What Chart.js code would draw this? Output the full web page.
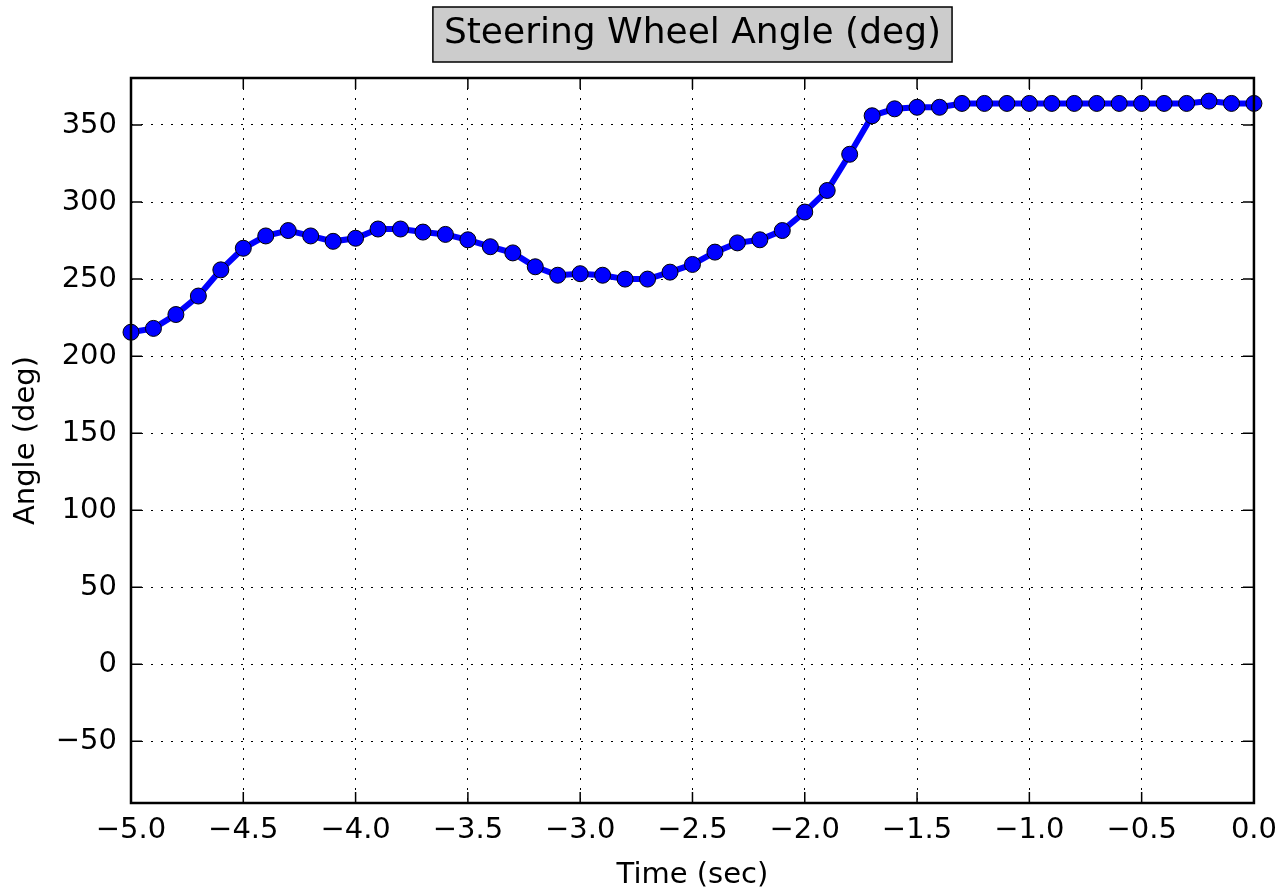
<!DOCTYPE html>
<html>
<head>
<meta charset="utf-8">
<title>Steering Wheel Angle (deg)</title>
<script src="https://cdn.jsdelivr.net/npm/chart.js@4/dist/chart.umd.min.js"></script>
<style>
    html, body {
        margin: 0;
        padding: 0;
        background: #ffffff;
    }
    #angleChart {
        display: block;
    }
</style>
</head>
<body>
<canvas id="angleChart" width="1287" height="893"></canvas>
<script>
// Time stamps (sec) and steering angle readings (deg)
const times = [
    -5.0, -4.9, -4.8, -4.7, -4.6, -4.5, -4.4, -4.3, -4.2, -4.1,
    -4.0, -3.9, -3.8, -3.7, -3.6, -3.5, -3.4, -3.3, -3.2, -3.1,
    -3.0, -2.9, -2.8, -2.7, -2.6, -2.5, -2.4, -2.3, -2.2, -2.1,
    -2.0, -1.9, -1.8, -1.7, -1.6, -1.5, -1.4, -1.3, -1.2, -1.1,
    -1.0, -0.9, -0.8, -0.7, -0.6, -0.5, -0.4, -0.3, -0.2, -0.1,
    0.0
];
const angles = [
    215.5, 218, 227, 239, 256, 270, 278, 281.5, 278, 274.5,
    276.5, 282.5, 282.5, 280.5, 279, 275.5, 271, 267, 258, 252.5,
    253.5, 252.5, 250, 250, 254.5, 259.5, 267.5, 273.5, 275.5, 281.5,
    293.5, 307.5, 331, 356, 360.5, 361.5, 361.5, 364, 364, 364,
    364, 364, 364, 364, 364, 364, 364, 364, 365.5, 364,
    364
];

// Tick positions
const xTicks = [-5.0, -4.5, -4.0, -3.5, -3.0, -2.5, -2.0, -1.5, -1.0, -0.5, 0.0];
const yTicks = [-50, 0, 50, 100, 150, 200, 250, 300, 350];

const chartTitle = 'Steering Wheel Angle (deg)';
const xLabel = 'Time (sec)';
const yLabel = 'Angle (deg)';

const FONT = '"DejaVu Sans", "Liberation Sans", sans-serif';

// matplotlib style minus sign
const fmt = (v, digits) => {
    const s = Math.abs(v).toFixed(digits);
    return v < 0 ? '\u2212' + s : s;
};

/**
 * Boxed title, grey background like the classic matplotlib look
 */
const boxedTitle = {
    id: 'boxedTitle',
    afterDraw(chart) {
        const ctx = chart.ctx;
        const area = chart.chartArea;
        const cx = (area.left + area.right) / 2;
        ctx.save();
        ctx.font = '36px ' + FONT;
        const w = ctx.measureText(chartTitle).width;
        const padX = 11;
        const boxTop = 7;
        const boxH = 55;
        ctx.fillStyle = '#cccccc';
        ctx.fillRect(cx - w / 2 - padX, boxTop, w + padX * 2, boxH);
        ctx.lineWidth = 1.5;
        ctx.strokeStyle = '#000000';
        ctx.strokeRect(cx - w / 2 - padX, boxTop, w + padX * 2, boxH);
        ctx.fillStyle = '#000000';
        ctx.textAlign = 'center';
        ctx.textBaseline = 'middle';
        ctx.fillText(chartTitle, cx, boxTop + boxH / 2 - 1);
        ctx.restore();
    }
};

/**
 * Frame on all four sides with inward ticks
 */
const frameTicks = {
    id: 'frameTicks',
    afterDraw(chart) {
        const ctx = chart.ctx;
        const {left, right, top, bottom} = chart.chartArea;
        const xs = chart.scales.x;
        const ys = chart.scales.y;
        const len = 11;
        ctx.save();
        ctx.strokeStyle = '#000000';
        ctx.lineWidth = 1.5;
        ctx.beginPath();
        xTicks.forEach(v => {
            const px = xs.getPixelForValue(v);
            ctx.moveTo(px, bottom);
            ctx.lineTo(px, bottom - len);
            ctx.moveTo(px, top);
            ctx.lineTo(px, top + len);
        });
        yTicks.forEach(v => {
            const py = ys.getPixelForValue(v);
            ctx.moveTo(left, py);
            ctx.lineTo(left + len, py);
            ctx.moveTo(right, py);
            ctx.lineTo(right - len, py);
        });
        ctx.stroke();
        ctx.lineWidth = 2.5;
        ctx.strokeRect(left, top, right - left, bottom - top);
        ctx.restore();
    }
};

const ctx = document.getElementById('angleChart').getContext('2d');

new Chart(ctx, {
    type: 'line',
    data: {
        datasets: [{
            label: yLabel,
            data: times.map((t, i) => ({x: t, y: angles[i]})),
            borderColor: '#0000ff',
            backgroundColor: '#0000ff',
            borderWidth: 6,
            pointRadius: 8,
            pointBackgroundColor: '#0000ff',
            pointBorderColor: '#000000',
            pointBorderWidth: 1,
            tension: 0,
            fill: false,
            clip: false
        }]
    },
    options: {
        responsive: false,
        animation: false,
        devicePixelRatio: 1,
        layout: {
            padding: {top: 78, right: 31, bottom: 0, left: 0}
        },
        plugins: {
            legend: {display: false},
            tooltip: {enabled: false},
            title: {display: false}
        },
        scales: {
            x: {
                type: 'linear',
                min: -5,
                max: 0,
                afterBuildTicks: (scale) => {
                    scale.ticks = xTicks.map(v => ({value: v}));
                },
                afterFit: (scale) => {
                    scale.height = 90;
                },
                ticks: {
                    color: '#000000',
                    font: {family: FONT, size: 29},
                    padding: 10,
                    maxRotation: 0,
                    autoSkip: false,
                    callback: (v) => fmt(v, 1)
                },
                grid: {
                    color: '#000000',
                    lineWidth: 1,
                    drawTicks: false
                },
                border: {
                    display: false,
                    dash: [2, 8]
                },
                title: {
                    display: true,
                    text: xLabel,
                    color: '#000000',
                    font: {family: FONT, size: 29, lineHeight: 1.2},
                    padding: {top: 0, bottom: 0}
                }
            },
            y: {
                type: 'linear',
                min: -90,
                max: 380.5,
                afterBuildTicks: (scale) => {
                    scale.ticks = yTicks.map(v => ({value: v}));
                },
                afterFit: (scale) => {
                    scale.width = 131;
                },
                ticks: {
                    color: '#000000',
                    font: {family: FONT, size: 29},
                    padding: 14,
                    autoSkip: false,
                    callback: (v) => fmt(v, 0)
                },
                grid: {
                    color: '#000000',
                    lineWidth: 1,
                    drawTicks: false
                },
                border: {
                    display: false,
                    dash: [2, 8]
                },
                title: {
                    display: true,
                    text: yLabel,
                    color: '#000000',
                    font: {family: FONT, size: 29, lineHeight: 1.2},
                    padding: {top: 9, bottom: 0}
                }
            }
        }
    },
    plugins: [boxedTitle, frameTicks]
});
</script>
</body>
</html>
